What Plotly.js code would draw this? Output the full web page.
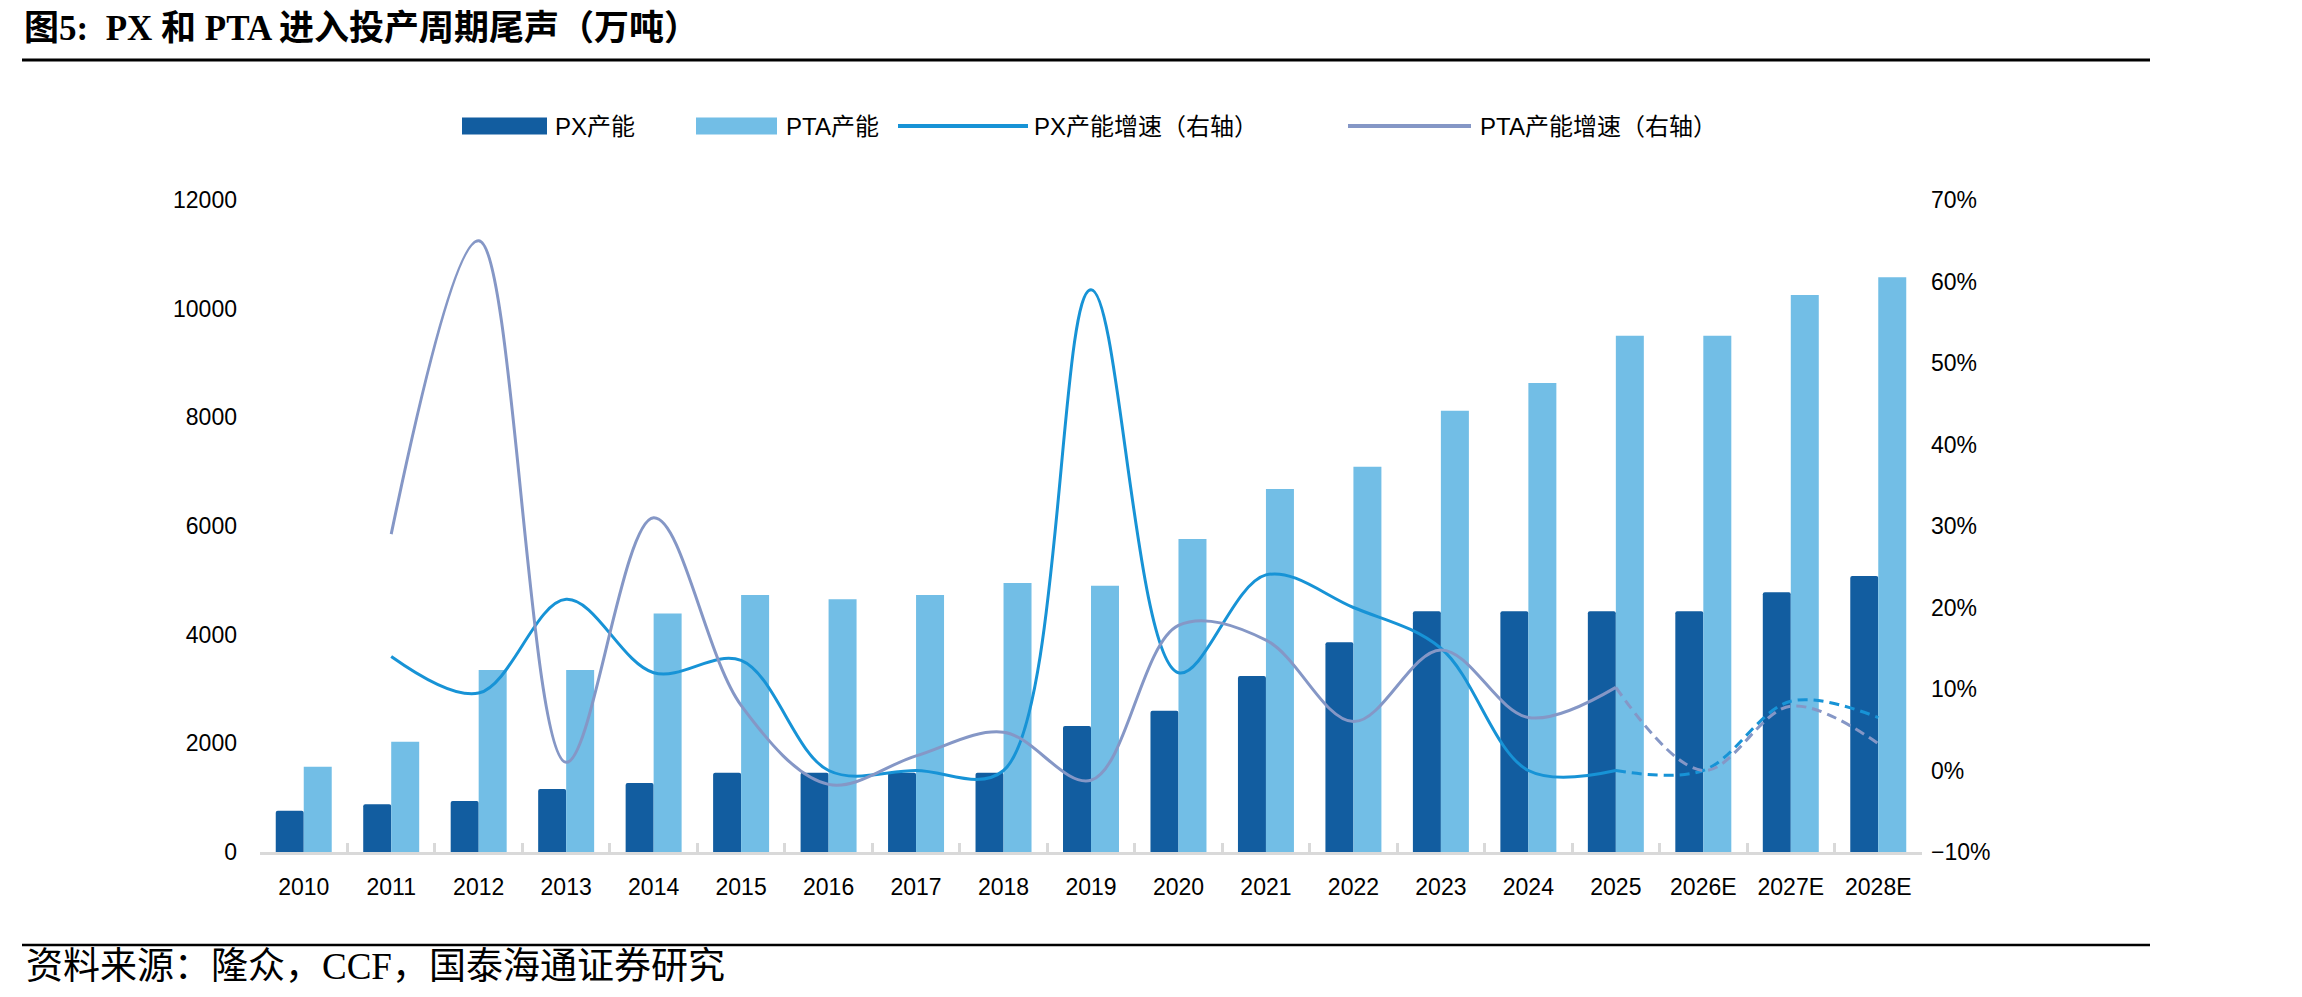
<!DOCTYPE html>
<html>
<head>
<meta charset="utf-8">
<script src="https://cdn.plot.ly/plotly-3.0.1.min.js"></script>
<style>
  html, body { margin: 0; padding: 0; background: #fff; }
  #chart { width: 2302px; height: 997px; }
</style>
</head>
<body>
<div id="chart"></div>
<script>
// ---------------- data ----------------
const categories = ['2010','2011','2012','2013','2014','2015','2016','2017','2018','2019',
                    '2020','2021','2022','2023','2024','2025','2026E','2027E','2028E'];
// 万吨
const pxCapacity  = [760, 880, 940, 1160, 1270, 1460, 1460, 1460, 1460, 2320,
                     2600, 3240, 3860, 4430, 4430, 4430, 4430, 4780, 5080];
const ptaCapacity = [1570, 2030, 3350, 3350, 4390, 4730, 4650, 4730, 4950, 4900,
                     5760, 6680, 7090, 8120, 8630, 9500, 9500, 10250, 10580];
// growth rates (right axis)
const pxGrowth  = [null, 0.14, 0.095, 0.21, 0.12, 0.135, 0.0, 0.0, 0.0, 0.59,
                   0.12, 0.24, 0.20, 0.15, 0.0, 0.0, 0.0, 0.085, 0.065];
const ptaGrowth = [null, 0.29, 0.65, 0.01, 0.31, 0.08, -0.017, 0.018, 0.047, -0.012,
                   0.178, 0.16, 0.06, 0.148, 0.065, 0.102, 0.0, 0.079, 0.033];
const forecastStart = '2025';   // lines are dashed from here on

const names = {
  px: 'PX产能', pta: 'PTA产能',
  pxG: 'PX产能增速（右轴）', ptaG: 'PTA产能增速（右轴）'
};
const titleText = '图5:  PX 和 PTA 进入投产周期尾声（万吨）';
const sourceText = '资料来源：隆众，CCF，国泰海通证券研究';

// ---------------- style ----------------
const C = {
  px: '#125DA0', pta: '#72BEE6', pxG: '#1793D6', ptaG: '#8597C6', axis: '#D9D9D9'
};
const W = 2302, H = 997;
const M = { l: 260, r: 380, t: 200, b: 145 };
const PW = W - M.l - M.r, PH = H - M.t - M.b;
const fx = X => (X - M.l) / PW;          // pixel -> paper x
const fy = Y => (H - M.b - Y) / PH;      // pixel -> paper y
const sansFont = 'Liberation Sans, Noto Sans CJK SC, sans-serif';

const iF = categories.indexOf(forecastStart);

function lineTraces(vals, name, color) {
  const solidX = [], solidY = [], dashX = [], dashY = [];
  categories.forEach((c, i) => {
    if (vals[i] === null) return;
    if (i <= iF) { solidX.push(c); solidY.push(vals[i]); }
    if (i >= iF) { dashX.push(c); dashY.push(vals[i]); }
  });
  return [
    { type: 'scatter', mode: 'lines', name: name, x: solidX, y: solidY, yaxis: 'y2',
      line: { color: color, width: 3, shape: 'spline', smoothing: 1 }, showlegend: false,
      hovertemplate: '%{x}: %{y:.1%}<extra>' + name + '</extra>' },
    { type: 'scatter', mode: 'lines', name: name, x: dashX, y: dashY, yaxis: 'y2',
      line: { color: color, width: 3, shape: 'spline', smoothing: 1, dash: '10px,6px' }, showlegend: false,
      hovertemplate: '%{x}: %{y:.1%}<extra>' + name + '</extra>' }
  ];
}

const traces = [
  { type: 'bar', name: names.px, x: categories, y: pxCapacity, marker: { color: C.px, cornerradius: 2 }, showlegend: false },
  { type: 'bar', name: names.pta, x: categories, y: ptaCapacity, marker: { color: C.pta }, showlegend: false },
  ...lineTraces(pxGrowth, names.pxG, C.pxG),
  ...lineTraces(ptaGrowth, names.ptaG, C.ptaG)
];

// custom legend (wide swatches as in the reference)
const legendItems = [
  { kind: 'rect', color: C.px,   x0: 462,  x1: 547,  text: names.px,   tx: 553 },
  { kind: 'rect', color: C.pta,  x0: 696,  x1: 777,  text: names.pta,  tx: 784 },
  { kind: 'line', color: C.pxG,  x0: 898,  x1: 1028, text: names.pxG,  tx: 1032 },
  { kind: 'line', color: C.ptaG, x0: 1348, x1: 1471, text: names.ptaG, tx: 1478 }
];
const legendY = 126;

const shapes = [
  // rule under title
  { type: 'line', xref: 'paper', yref: 'paper', x0: fx(22), x1: fx(2150), y0: fy(60), y1: fy(60),
    line: { color: '#000', width: 3 } },
  // rule above source
  { type: 'line', xref: 'paper', yref: 'paper', x0: fx(22), x1: fx(2150), y0: fy(945), y1: fy(945),
    line: { color: '#000', width: 2.5 } }
];
const annotations = [
  { xref: 'paper', yref: 'paper', x: fx(24), y: fy(966), xanchor: 'left', yanchor: 'middle',
    text: sourceText, showarrow: false,
    font: { family: 'Liberation Serif, Noto Sans CJK SC, serif', size: 37, color: '#000' } }
];
legendItems.forEach(it => {
  if (it.kind === 'rect') {
    shapes.push({ type: 'rect', xref: 'paper', yref: 'paper', x0: fx(it.x0), x1: fx(it.x1),
      y0: fy(legendY + 8.5), y1: fy(legendY - 8.5), fillcolor: it.color, line: { width: 0 } });
  } else {
    shapes.push({ type: 'line', xref: 'paper', yref: 'paper', x0: fx(it.x0), x1: fx(it.x1),
      y0: fy(legendY), y1: fy(legendY), line: { color: it.color, width: 4 } });
  }
  annotations.push({ xref: 'paper', yref: 'paper', x: fx(it.tx), y: fy(legendY), xanchor: 'left',
    yanchor: 'middle', text: it.text, showarrow: false,
    font: { family: sansFont, size: 24, color: '#000' } });
});

const layout = {
  width: W, height: H,
  margin: M,
  paper_bgcolor: '#fff', plot_bgcolor: '#fff',
  showlegend: false,
  barmode: 'group', bargap: 0.36, bargroupgap: 0,
  title: {
    text: '<b>' + titleText + '</b>',
    xref: 'container', yref: 'container', x: 24 / W, xanchor: 'left', y: 1 - 28 / H, yanchor: 'middle',
    font: { family: 'Liberation Serif, Noto Sans CJK SC, serif', size: 35, color: '#000' }
  },
  xaxis: {
    type: 'category', range: [-0.5, categories.length - 0.5],
    showline: true, linecolor: C.axis, linewidth: 3,
    ticks: 'inside', tickson: 'boundaries', ticklen: 9, tickwidth: 2.5, tickcolor: C.axis,
    showgrid: false, zeroline: false,
    tickfont: { family: sansFont, size: 23, color: '#000' },
    ticklabelstandoff: 12
  },
  yaxis: {
    range: [0, 12000], dtick: 2000, tick0: 0,
    showgrid: false, zeroline: false, showline: false, ticks: '',
    tickformat: 'd',
    tickfont: { family: sansFont, size: 23, color: '#000' },
    ticklabelstandoff: 22
  },
  yaxis2: {
    overlaying: 'y', side: 'right', range: [-0.1, 0.7], dtick: 0.1, tick0: 0,
    tickformat: '.0%', showgrid: false, zeroline: false, showline: false, ticks: '',
    tickfont: { family: sansFont, size: 23, color: '#000' },
    ticklabelstandoff: 8
  },
  shapes: shapes,
  annotations: annotations
};

Plotly.newPlot('chart', traces, layout, { displayModeBar: false, responsive: false });
</script>
</body>
</html>
